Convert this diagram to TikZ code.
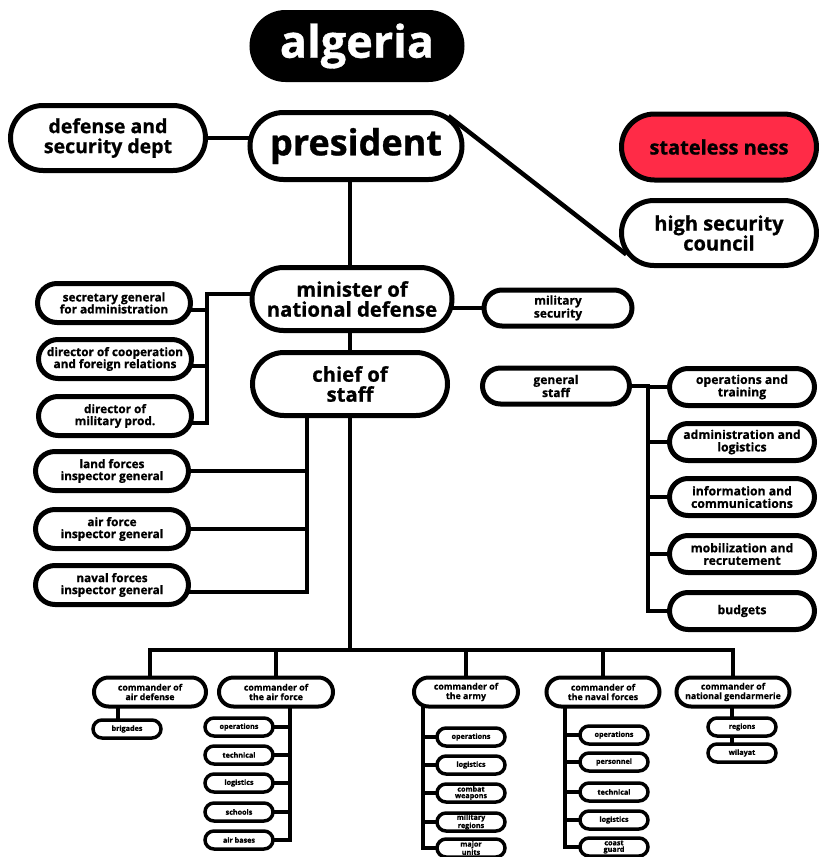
\documentclass[tikz,border=0pt]{standalone}
\usepackage{fontspec}
\setmainfont{Open Sans}[BoldFeatures={FakeBold=0.8}]
\usetikzlibrary{shapes.misc,backgrounds}
\definecolor{snred}{HTML}{FF2B47}
\newcommand{\fsz}[2]{\fontsize{#1}{#2}\selectfont\bfseries}
\begin{document}
\begin{tikzpicture}[x=1pt,y=-1pt,
  pill/.style={rounded rectangle, draw, line width=5pt, fill=white, inner sep=0pt, align=center},
  rbox/.style={pill, minimum width=145pt, minimum height=37pt, font=\fsz{12.2}{12.5}},
  lbox/.style={pill, minimum width=153pt, minimum height=39pt, font=\fsz{11.8}{12}},
  cmd/.style={pill, line width=4pt, minimum height=29pt, font=\fsz{8.8}{9.5}},
  subbox/.style={pill, line width=3.5pt, minimum width=68pt, minimum height=18pt, font=\fsz{7.2}{6.5}},
  conn/.style={line width=4.5pt},
  sconn/.style={line width=4pt}]
\useasboundingbox (0,0) rectangle (819,857);
% top level
\node[pill, fill=black, text=white, minimum width=210pt, minimum height=67pt, font=\fsz{45}{45}] (alg) at (357,46) {algeria};
\node[pill, minimum width=212pt, minimum height=67pt, font=\fsz{36}{36}] (pres) at (356,146) {president};
\node[pill, minimum width=195pt, minimum height=65pt, font=\fsz{19.5}{20}] (dsd) at (108,138) {defense and\\security dept};
\node[pill, fill=snred, minimum width=195pt, minimum height=66pt, font=\fsz{20}{20}] (sn) at (719,147) {stateless ness};
\node[pill, minimum width=195pt, minimum height=65pt, font=\fsz{20}{20}] (hsc) at (719,233) {high security\\council};
\node[pill, minimum width=200pt, minimum height=63pt, font=\fsz{20.3}{20}] (mnd) at (352,299) {minister of\\national defense};
\node[pill, minimum width=148pt, minimum height=36pt, font=\fsz{12}{11.5}] (ms) at (558,308) {military\\security};
\node[pill, minimum width=195pt, minimum height=63pt, font=\fsz{20.3}{20}] (cos) at (350,384) {chief of\\staff};
\node[pill, minimum width=147pt, minimum height=36pt, font=\fsz{12}{11.5}] (gs) at (556,386) {general\\staff};
% general staff branches
\node[rbox] (r1) at (742,387) {operations and\\training};
\node[rbox] (r2) at (742,442) {administration and\\logistics};
\node[rbox] (r3) at (742,497) {information and\\communications};
\node[rbox] (r4) at (742,554) {mobilization and\\recrutement};
\node[rbox] (r5) at (742,611) {budgets};
% left
\node[lbox] (l1) at (114,303) {secretary general\\for administration};
\node[lbox] (l2) at (115,359) {director of cooperation\\and foreign relations};
\node[lbox] (l3) at (115,416) {director of\\military prod.};
\node[lbox] (i1) at (112,471) {land forces\\inspector general};
\node[lbox] (i2) at (112,529) {air force\\inspector general};
\node[lbox] (i3) at (112,585) {naval forces\\inspector general};
% commanders
\node[cmd, minimum width=112pt] (c1) at (150,692) {commander of\\air defense};
\node[cmd, minimum width=114pt] (c2) at (276,692) {commander of\\the air force};
\node[cmd, minimum width=104pt] (c3) at (466,692) {commander of\\the army};
\node[cmd, minimum width=113pt] (c4) at (603,692) {commander of\\the naval forces};
\node[cmd, minimum width=113pt] (c5) at (733,692) {commander of\\national gendarmerie};
% sub items
\node[subbox] (brig) at (127,729) {brigades};
\node[subbox] (af1) at (239,727) {operations};
\node[subbox] (af2) at (239,755) {technical};
\node[subbox] (af3) at (239,783) {logistics};
\node[subbox] (af4) at (239,812) {schools};
\node[subbox] (af5) at (239,840) {air bases};
\node[subbox] (ar1) at (471,737) {operations};
\node[subbox] (ar2) at (471,765) {logistics};
\node[subbox] (ar3) at (471,793) {combat\\weapons};
\node[subbox] (ar4) at (471,822) {military\\regions};
\node[subbox] (ar5) at (471,848) {major\\units};
\node[subbox] (nv1) at (614,735) {operations};
\node[subbox] (nv2) at (614,762) {personnel};
\node[subbox] (nv3) at (614,792) {technical};
\node[subbox] (nv4) at (614,820) {logistics};
\node[subbox] (nv5) at (614,847) {coast\\guard};
\node[subbox] (g1) at (742,727) {regions};
\node[subbox] (g2) at (742,753) {wilayat};
% helper coordinates
\coordinate (bus) at (350,650);
\coordinate (rj) at (648,386);
\coordinate (lj) at (207,294);
\coordinate (cj) at (307,384);
\coordinate (afj) at (290,692);
\coordinate (aj) at (423,692);
\coordinate (nj) at (565,692);
\coordinate (l1s) at ([yshift=-7pt]l1.center);
\coordinate (l2s) at ([yshift=-7pt]l2.center);
\coordinate (l3s) at ([yshift=-7pt]l3.center);
\coordinate (i3s) at ([yshift=-7pt]i3.center);
\coordinate (bj) at ([xshift=-9pt]brig.center);
\coordinate (gj) at ([xshift=-10pt]g2.center);
\begin{scope}[on background layer]
\fill[white] (0,0) rectangle (819,857);
\draw[conn] (dsd.center) -- (dsd.center -| pres.center);
\draw[conn] (pres.18) -- (hsc.193);
\draw[conn] (bus |- pres.center) -- (bus);
\draw[conn] (ms.center) -- (ms.center -| mnd.center);
\draw[conn] (gs.center) -- (rj) |- (r5.center);
\foreach \r in {r1,r2,r3,r4} \draw[conn] (rj |- \r.center) -- (\r.center);
\draw[conn] (mnd.center |- lj) -- (lj) |- (l3s);
\draw[conn] (lj |- l1s) -- (l1s);
\draw[conn] (lj |- l2s) -- (l2s);
\draw[conn] (cj) |- (i3s);
\draw[conn] (cj |- i1.center) -- (i1.center);
\draw[conn] (cj |- i2.center) -- (i2.center);
\draw[conn] (c1.center) |- (c5.center |- bus) -- (c5.center);
\foreach \c in {c2,c3,c4} \draw[sconn] (\c.center) -- (\c.center |- bus);
\draw[sconn] (bj) -- (bj |- c1.center);
\draw[sconn] (afj) |- (af5.center);
\foreach \s in {af1,af2,af3,af4} \draw[sconn] (afj |- \s.center) -- (\s.center);
\draw[sconn] (aj) |- (ar5.center);
\foreach \s in {ar1,ar2,ar3,ar4} \draw[sconn] (aj |- \s.center) -- (\s.center);
\draw[sconn] (nj) |- (nv5.center);
\foreach \s in {nv1,nv2,nv3,nv4} \draw[sconn] (nj |- \s.center) -- (\s.center);
\draw[sconn] (gj) -- (gj |- c5.center);
\end{scope}
\end{tikzpicture}
\end{document}
